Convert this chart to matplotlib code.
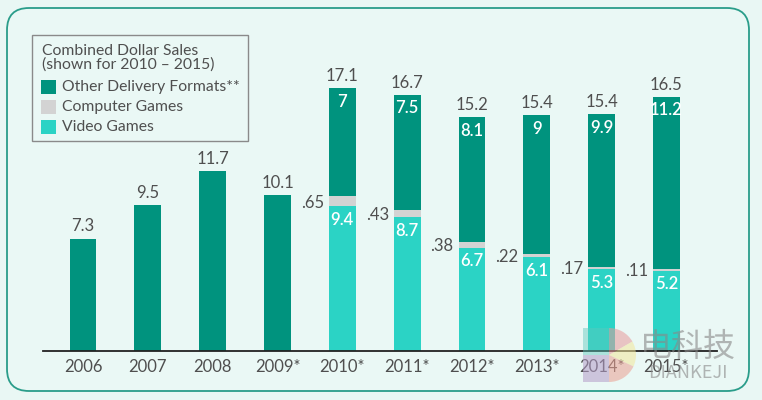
import matplotlib.pyplot as plt
from matplotlib.patches import FancyBboxPatch, Rectangle, Wedge
import numpy as np

plt.rcParams['font.family'] = ['Lato', 'DejaVu Sans']

# data
years = ['2006', '2007', '2008', '2009*', '2010*', '2011*', '2012*', '2013*', '2014*', '2015*']
early_totals = [7.3, 9.5, 11.7, 10.1]
video = [9.4, 8.7, 6.7, 6.1, 5.3, 5.2]
computer = [0.65, 0.43, 0.38, 0.22, 0.17, 0.11]
computer_labels = ['.65', '.43', '.38', '.22', '.17', '.11']
other = [7, 7.5, 8.1, 9, 9.9, 11.2]
totals = [17.1, 16.7, 15.2, 15.4, 15.4, 16.5]

c_other = '#00937e'
c_comp = '#d3d3d3'
c_video = '#2bd3c5'
c_text = '#4f4f4f'
bg = '#e9f7f4'

fig = plt.figure(figsize=(7.62, 4.0), dpi=100, facecolor=bg)
T = fig.dpi_scale_trans

# rounded frame (behind everything)
frame = FancyBboxPatch((0.07, 0.09), 7.42, 3.83, boxstyle='round,pad=0,rounding_size=0.22',
                       transform=T, facecolor='#eaf8f5',
                       edgecolor='#2a9d8a', linewidth=1.3, zorder=-10)
fig.patches.append(frame)

ax = fig.add_axes([43 / 762, 49 / 400, 674 / 762, 308 / 400])
ax.set_facecolor('none')
ax.set_xlim(-0.617, 9.78)
ax.set_ylim(0, 20)

x = np.arange(len(years))
w = 0.415
x_early = x[:4]
x_late = x[4:]

ax.bar(x_early, early_totals, w, color=c_other)
for xi, v in zip(x_early, early_totals):
    ax.annotate(f'{v:g}', (xi, v), xytext=(0, 3), textcoords='offset points',
                ha='center', va='bottom', fontsize=12, color=c_text)

bottom_c = np.array(video)
bottom_o = bottom_c + np.array(computer)
ax.bar(x_late, video, w, color=c_video)
ax.bar(x_late, computer, w, bottom=bottom_c, color=c_comp)
ax.bar(x_late, other, w, bottom=bottom_o, color=c_other)

for i, xi in enumerate(x_late):
    ax.annotate(f'{video[i]:g}', (xi, video[i]), xytext=(0, -4), textcoords='offset points',
                ha='center', va='top', fontsize=12, color='white', fontweight='semibold')
    top = bottom_o[i] + other[i]
    ax.annotate(f'{other[i]:g}', (xi, top), xytext=(0, -4), textcoords='offset points',
                ha='center', va='top', fontsize=12, color='white', fontweight='semibold')
    ax.annotate(f'{totals[i]:g}', (xi, top), xytext=(0, 3), textcoords='offset points',
                ha='center', va='bottom', fontsize=12, color=c_text)
    ax.annotate(computer_labels[i], (xi - w / 2, bottom_c[i] + computer[i] / 2),
                xytext=(-3.5, -1), textcoords='offset points',
                ha='right', va='center', fontsize=12, color=c_text)

for s in ['top', 'right', 'left']:
    ax.spines[s].set_visible(False)
ax.spines['bottom'].set_color('#222222')
ax.spines['bottom'].set_linewidth(1.3)
ax.set_yticks([])
ax.set_xticks(x)
ax.set_xticklabels(years, fontsize=12, color=c_text)
ax.tick_params(axis='x', length=0, pad=6)

# legend box
fig.patches.append(Rectangle((0.32, 2.59), 2.16, 1.06, transform=T, facecolor='none',
                             edgecolor='#8a8a8a', linewidth=1))
fig.text(0.42, 3.49, 'Combined Dollar Sales', transform=T, fontsize=11.3, color=c_text, va='center')
fig.text(0.42, 3.355, '(shown for 2010 \u2013 2015)', transform=T, fontsize=11.3, color=c_text, va='center')
for yc, col, lab in [(3.13, c_other, 'Other Delivery Formats**'),
                     (2.93, c_comp, 'Computer Games'),
                     (2.73, c_video, 'Video Games')]:
    fig.patches.append(Rectangle((0.41, yc - 0.07), 0.15, 0.14, transform=T, facecolor=col,
                                 edgecolor='none'))
    fig.text(0.62, yc, lab, transform=T, fontsize=11.3, color=c_text, va='center')

# watermark logo (faint)
cx, cy, r = 6.09, 0.45, 0.27
for a1, a2, col in [(30, 90, '#e89a9a'), (-25, 30, '#f2e69a'), (-90, -25, '#eba092')]:
    fig.patches.append(Wedge((cx, cy), r, a1, a2, transform=T, facecolor=col,
                             edgecolor='none', alpha=0.55, zorder=5))
fig.patches.append(Rectangle((5.83, cy), cx - 5.83, r, transform=T, facecolor='#5cc9bd',
                             edgecolor='none', alpha=0.45, zorder=5))
fig.patches.append(Rectangle((5.83, cy - r), cx - 5.83, r, transform=T, facecolor='#b49cc8',
                             edgecolor='none', alpha=0.55, zorder=5))
fig.text(6.88, 0.53, '电科技', transform=T, fontsize=23, color='#888888', alpha=0.6,
         ha='center', va='center', family=['Noto Sans CJK SC', 'DejaVu Sans'])
fig.text(6.88, 0.265, 'DIANKEJI', transform=T, fontsize=13, color='#888888', alpha=0.6,
         ha='center', va='center', family=['Noto Sans CJK SC', 'DejaVu Sans'], fontweight='light')

fig.savefig('out.png', dpi=100, facecolor=bg)
